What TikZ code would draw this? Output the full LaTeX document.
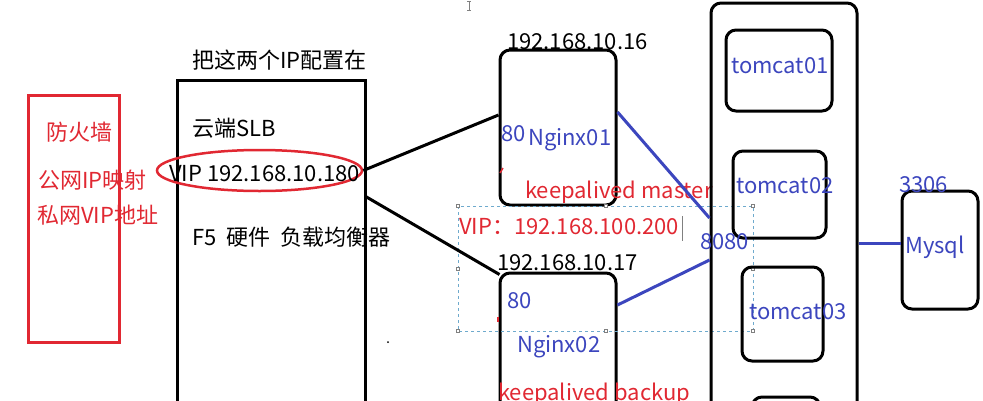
\documentclass[tikz,border=0pt]{standalone}
\usepackage{fontspec}
\setmainfont{Noto Sans CJK SC}
\usetikzlibrary{shapes.geometric,calc}
\definecolor{fred}{RGB}{225,40,50}
\definecolor{fblue}{RGB}{60,70,190}
\definecolor{selblue}{RGB}{110,170,205}
\tikzset{
  box/.style={draw=black,line width=3pt,rounded corners=10pt,inner sep=0pt},
  plainbox/.style={draw=black,line width=3pt,inner sep=0pt},
  txt/.style={anchor=base west,inner sep=0pt,font=\fontsize{22}{26}\selectfont},
  bl/.style={txt,text=black},
  rd/.style={txt,text=fred},
  bu/.style={txt,text=fblue},
  blk/.style={draw=black,line width=3pt},
  blu/.style={draw=fblue,line width=3pt},
  handle/.style={draw=gray,fill=white,line width=0.5pt,minimum size=3pt,inner sep=0pt}
}
\begin{document}
\begin{tikzpicture}[x=1pt,y=-1pt]
\useasboundingbox (0,0) rectangle (983,400);
\clip (0,0) rectangle (983,400);
\fill[white] (0,0) rectangle (983,400);
% firewall
\node[draw=fred,line width=3pt,minimum width=91pt,minimum height=247pt,inner sep=0pt] (fw) at (73.5,218.5) {};
\node[rd] (fw1) at (46,140) {防火墙};
\node[rd] (fw2) at (38,188) {公网IP映射};
\node[rd] (fw3) at (37,223) {私网VIP地址};
% SLB
\node[plainbox,minimum width=188pt,minimum height=350pt] (slb) at (271,255) {};
\node[bl] (slbt0) at (192,68) {把这两个IP配置在};
\node[bl] (slbt1) at (192,136) {云端SLB};
\node[draw=fred,line width=2.5pt,ellipse,minimum width=205pt,minimum height=41pt,inner sep=0pt] (vip) at (259.5,170.5) {};
\node[bl] (viptxt) at (169,181) {VIP 192.168.10.180};
\node[bl] (f5) at (192,245) {F5\ \ 硬件\ \ 负载均衡器};
\fill (388,342) circle (1pt);
% nginx
\node[box,minimum width=116pt,minimum height=155pt] (n1) at (558,127.5) {};
\node[box,minimum width=116pt,minimum height=157pt] (n2) at (558,351.5) {};
\node[bl] (ip16) at (507,49) {192.168.10.16};
\node[bu] (p80a) at (501,141) {80};
\node[bu] (ng1) at (528,145) {Nginx01};
\node[rd] (km) at (525,198) {keepalived master};
\node[bl] (ip17) at (497,270) {192.168.10.17};
\node[bu] (p80b) at (507,308) {80};
\node[bu] (ng2) at (517,352) {Nginx02};
\node[rd] (kb) at (498,400) {keepalived backup};
\draw[fred,line width=1.5pt] (500,173) -- (503,168);
\draw[fred,line width=1.5pt] (498,317) -- (498,322);
% selection box
\draw[selblue,dashed,line width=0.7pt] (458,206) rectangle (753,331);
\foreach \p in {(458,206),(605.5,206),(753,206),(458,268.5),(753,268.5),(458,331),(605.5,331),(753,331)}
  \node[handle] at \p {};
\node[rd] (vip2) at (459,234) {VIP：192.168.100.200};
\draw[gray,line width=1pt] (682,216) -- (682,241);
% tomcat
\node[box,minimum width=146pt,minimum height=427pt] (tc) at (784,216.5) {};
\node[box,minimum width=106pt,minimum height=81pt] (t1) at (779,70.5) {};
\node[box,minimum width=93pt,minimum height=87pt] (t2) at (779.5,194.5) {};
\node[box,minimum width=81pt,minimum height=94pt] (t3) at (782.5,314) {};
\node[box,minimum width=68pt,minimum height=62pt] (t4) at (786,428) {};
\node[bu] (t1t) at (731,73) {tomcat01};
\node[bu] (t2t) at (736,193) {tomcat02};
\node[bu] (t3t) at (749,319) {tomcat03};
\node[bu] (p8080) at (700,249) {8080};
% mysql
\node[box,minimum width=76pt,minimum height=118pt] (db) at (940,250) {};
\node[bu] (p3306) at (899,192) {3306};
\node[bu] (dbt) at (905,253) {Mysql};
% connectors
\draw[blk] (vip.east) -- ([yshift=12.5pt]n1.west);
\draw[blk] ([yshift=58pt]slb.east) -- ([xshift=1pt,yshift=-3pt]n2.north west);
\draw[blu] ([yshift=15.5pt]n1.east) -- ([yshift=-1.5pt]tc.west);
\draw[blu] ([yshift=46.5pt]n2.east) -- ([yshift=-43.5pt]tc.west);
\draw[blu] ([yshift=-26.5pt]tc.east) -- ([yshift=7pt]db.west);
% cursor marks
\draw[gray,line width=0.8pt] (469,1) -- (469,10) (467,1) -- (471,1) (467,10) -- (471,10);
\end{tikzpicture}
\end{document}
